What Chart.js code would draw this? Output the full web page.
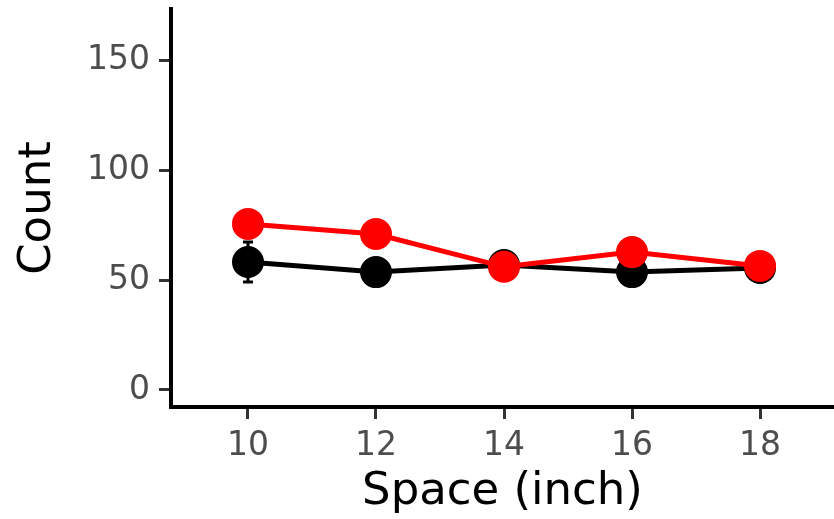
<!DOCTYPE html>
<html>
<head>
<meta charset="utf-8">
<script src="https://cdn.jsdelivr.net/npm/chart.js@4/dist/chart.umd.min.js"></script>
<style>
  html, body { margin: 0; padding: 0; background: #ffffff; }
  #wrap { width: 834px; height: 519px; position: relative; }
</style>
</head>
<body>
<div id="wrap"><canvas id="c" width="834" height="519"></canvas></div>
<script>
// ---- data ----
const spaces = [10, 12, 14, 16, 18];
const blackCounts = [58.2, 53.6, 56.8, 53.6, 55.5];
const blackErrors = [9.1, 2.5, 2.5, 2.5, 2.0];
const redCounts = [75.5, 70.9, 56.0, 62.7, 56.4];
const xTicks = [10, 12, 14, 16, 18];
const yTicks = [0, 50, 100, 150];
const xTitle = 'Space (inch)';
const yTitle = 'Count';

const FONT = "'DejaVu Sans', sans-serif";

const errorBarPlugin = {
  id: 'errorBars',
  beforeDatasetsDraw(chart) {
    const ctx = chart.ctx;
    const xs = chart.scales.x, ys = chart.scales.y;
    ctx.save();
    ctx.strokeStyle = '#000000';
    ctx.lineWidth = 3;
    spaces.forEach((s, i) => {
      const px = xs.getPixelForValue(s);
      const lo = ys.getPixelForValue(blackCounts[i] - blackErrors[i]);
      const hi = ys.getPixelForValue(blackCounts[i] + blackErrors[i]);
      ctx.beginPath();
      ctx.moveTo(px, lo); ctx.lineTo(px, hi);
      ctx.moveTo(px - 5, lo); ctx.lineTo(px + 5, lo);
      ctx.moveTo(px - 5, hi); ctx.lineTo(px + 5, hi);
      ctx.stroke();
    });
    ctx.restore();
  }
};

new Chart(document.getElementById('c'), {
  type: 'line',
  data: {
    datasets: [
      {
        label: 'red',
        data: spaces.map((s, i) => ({ x: s, y: redCounts[i] })),
        borderColor: '#ff0000',
        backgroundColor: '#ff0000',
        borderWidth: 5,
        pointRadius: 16,
        pointBorderWidth: 0,
        pointBackgroundColor: '#ff0000',
        order: 0
      },
      {
        label: 'black',
        data: spaces.map((s, i) => ({ x: s, y: blackCounts[i] })),
        borderColor: '#000000',
        backgroundColor: '#000000',
        borderWidth: 5,
        pointRadius: 16,
        pointBorderWidth: 0,
        pointBackgroundColor: '#000000',
        order: 1
      }
    ]
  },
  options: {
    responsive: false,
    animation: false,
    devicePixelRatio: 1,
    layout: { autoPadding: false, padding: { top: 9, right: 0, bottom: 0, left: 0 } },
    plugins: { legend: { display: false }, tooltip: { enabled: false } },
    scales: {
      x: {
        type: 'linear',
        min: 8.797,
        max: 19.156,
        afterBuildTicks: (sc) => { sc.ticks = xTicks.map(v => ({ value: v })); },
        afterFit: (sc) => { sc.height = 112; sc.paddingLeft = 0; sc.paddingRight = 0; },
        border: { display: true, color: '#000000', width: 4 },
        grid: { drawOnChartArea: false, drawTicks: true, tickLength: 12, tickColor: '#333333', tickWidth: 3 },
        ticks: { color: '#4d4d4d', font: { family: FONT, size: 33 }, padding: 8, maxRotation: 0 },
        title: { display: true, text: xTitle, color: '#000000', font: { family: FONT, size: 45, lineHeight: 1.2 }, padding: { top: 0, bottom: 0 } }
      },
      y: {
        type: 'linear',
        min: -7.73,
        max: 173.2,
        afterBuildTicks: (sc) => { sc.ticks = yTicks.map(v => ({ value: v })); },
        afterFit: (sc) => { sc.width = 171; sc.paddingTop = 0; sc.paddingBottom = 0; },
        border: { display: true, color: '#000000', width: 4 },
        grid: { drawOnChartArea: false, drawTicks: true, tickLength: 12, tickColor: '#333333', tickWidth: 3 },
        ticks: { color: '#4d4d4d', font: { family: FONT, size: 33 }, padding: 9 },
        title: { display: true, text: yTitle, color: '#000000', font: { family: FONT, size: 45, lineHeight: 1.2 }, padding: { top: 11, bottom: 0 } }
      }
    }
  },
  plugins: [errorBarPlugin, {
    id: 'bg',
    beforeDraw(chart) {
      const ctx = chart.ctx;
      ctx.save();
      ctx.fillStyle = '#ffffff';
      ctx.fillRect(0, 0, chart.width, chart.height);
      ctx.restore();
    }
  }]
});
</script>
</body>
</html>
